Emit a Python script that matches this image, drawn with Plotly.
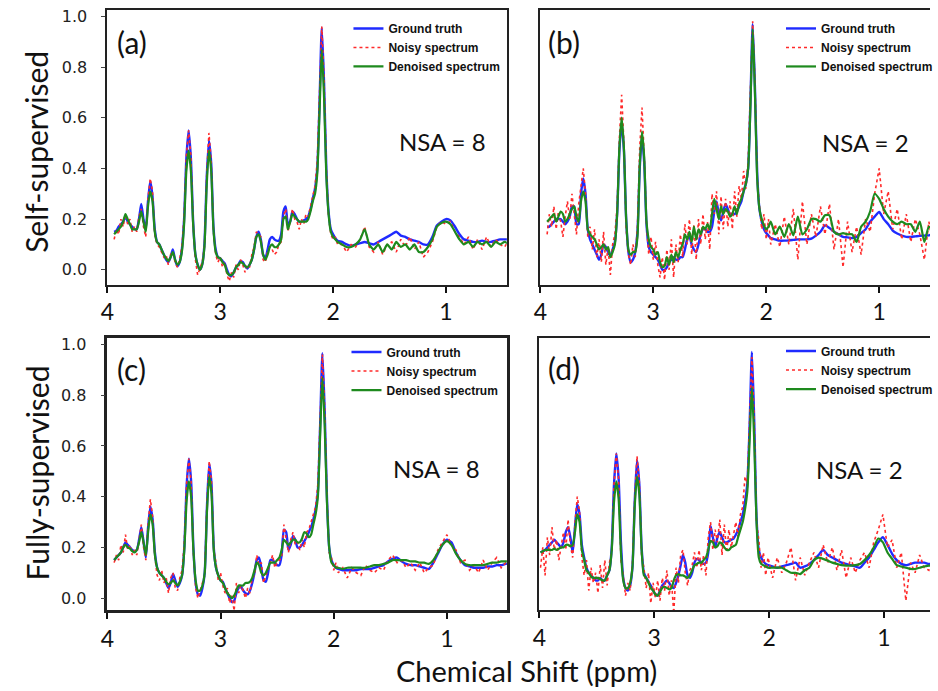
import plotly.graph_objects as go

# ---------------- data (chemical shift in ppm, normalised intensity) ----------------
ppm_abc = [3.94,3.92,3.90,3.88,3.86,3.84,3.82,3.80,3.78,3.76,
           3.74,3.72,3.70,3.68,3.66,3.64,3.62,3.60,3.58,3.56,
           3.54,3.52,3.50,3.48,3.46,3.44,3.42,3.40,3.38,3.36,
           3.34,3.32,3.30,3.28,3.26,3.24,3.22,3.20,3.18,3.16,
           3.14,3.12,3.10,3.08,3.06,3.04,3.02,3.00,2.98,2.96,
           2.94,2.92,2.90,2.88,2.86,2.84,2.82,2.80,2.78,2.76,
           2.74,2.72,2.70,2.68,2.66,2.64,2.62,2.60,2.58,2.56,
           2.54,2.52,2.50,2.48,2.46,2.44,2.42,2.40,2.38,2.36,
           2.34,2.32,2.30,2.28,2.26,2.24,2.22,2.20,2.18,2.16,
           2.14,2.12,2.10,2.08,2.06,2.04,2.02,2.00,1.98,1.96,
           1.92,1.88,1.84,1.80,1.76,1.72,1.68,1.64,1.60,1.56,
           1.52,1.48,1.44,1.40,1.36,1.32,1.28,1.24,1.20,1.16,
           1.12,1.08,1.04,1.00,0.96,0.92,0.88,0.84,0.80,0.76,
           0.72,0.68,0.64,0.60,0.56,0.52,0.48,0.44]

ppm_d = [3.99,3.97,3.95,3.93,3.91,3.89,3.87,3.85,3.83,3.81,
         3.79,3.77,3.75,3.73,3.71,3.69,3.67,3.65,3.63,3.61,
         3.59,3.57,3.55,3.53,3.51,3.49,3.47,3.45,3.43,3.41,
         3.39,3.37,3.35,3.33,3.31,3.29,3.27,3.25,3.23,3.21,
         3.19,3.17,3.15,3.13,3.11,3.09,3.07,3.05,3.03,3.01,
         2.99,2.97,2.95,2.93,2.91,2.89,2.87,2.85,2.83,2.81,
         2.79,2.77,2.75,2.73,2.71,2.69,2.67,2.65,2.63,2.61,
         2.59,2.57,2.55,2.53,2.51,2.49,2.47,2.45,2.43,2.41,
         2.39,2.37,2.35,2.33,2.31,2.29,2.27,2.25,2.23,2.21,
         2.19,2.17,2.15,2.13,2.11,2.09,2.07,2.05,2.03,2.01,
         1.97,1.93,1.89,1.85,1.81,1.77,1.73,1.69,1.65,1.61,
         1.57,1.53,1.49,1.45,1.41,1.37,1.33,1.29,1.25,1.21,
         1.17,1.13,1.09,1.05,1.01,0.97,0.93,0.89,0.85,0.81,
         0.77,0.73,0.69,0.65,0.61,0.57,0.53,0.49]

# (a) self-supervised, NSA = 8
gt_a = [0.15,0.155,0.17,0.18,0.19,0.21,0.19,0.18,0.17,0.16,
        0.16,0.20,0.26,0.20,0.16,0.27,0.35,0.29,0.16,0.11,
        0.10,0.08,0.06,0.04,0.03,0.05,0.08,0.04,0.015,0.03,
        0.08,0.20,0.44,0.55,0.44,0.19,0.06,0.02,0.00,0.02,
        0.10,0.36,0.51,0.42,0.17,0.08,0.05,0.045,0.035,0.025,
        0.00,-0.02,-0.025,-0.01,0.01,0.02,0.035,0.03,0.015,0.005,
        0.02,0.04,0.08,0.13,0.15,0.12,0.06,0.045,0.08,0.12,
        0.13,0.12,0.115,0.115,0.14,0.23,0.25,0.18,0.19,0.23,
        0.22,0.20,0.19,0.19,0.195,0.20,0.21,0.24,0.28,0.32,
        0.40,0.66,0.955,0.74,0.40,0.23,0.16,0.14,0.125,0.115,
        0.11,0.10,0.095,0.10,0.105,0.11,0.105,0.10,0.11,0.12,
        0.13,0.14,0.15,0.135,0.13,0.12,0.115,0.11,0.10,0.10,
        0.13,0.175,0.19,0.20,0.195,0.17,0.14,0.12,0.115,0.11,
        0.11,0.115,0.11,0.11,0.115,0.12,0.12,0.12]
noisy_a = [0.12,0.16,0.14,0.20,0.17,0.22,0.18,0.20,0.15,0.17,
           0.15,0.21,0.24,0.17,0.13,0.28,0.36,0.31,0.14,0.10,
           0.09,0.07,0.05,0.06,0.02,0.06,0.07,0.03,0.01,0.04,
           0.09,0.21,0.45,0.55,0.45,0.18,0.04,-0.02,0.01,0.03,
           0.09,0.37,0.54,0.43,0.15,0.06,0.03,0.05,0.01,0.03,
           -0.02,-0.045,-0.01,-0.03,0.02,0.00,0.04,0.02,-0.01,0.02,
           0.01,0.06,0.09,0.15,0.14,0.13,0.04,0.03,0.07,0.09,
           0.08,0.06,0.07,0.10,0.11,0.21,0.24,0.15,0.19,0.24,
           0.20,0.19,0.16,0.20,0.18,0.22,0.21,0.25,0.30,0.33,
           0.43,0.68,0.96,0.75,0.40,0.21,0.14,0.12,0.13,0.10,
           0.10,0.07,0.10,0.09,0.12,0.17,0.09,0.07,0.11,0.06,
           0.10,0.11,0.07,0.12,0.09,0.13,0.08,0.11,0.05,0.07,
           0.11,0.17,0.19,0.18,0.19,0.15,0.13,0.10,0.13,0.08,
           0.12,0.08,0.13,0.09,0.12,0.10,0.09,0.12]
den_a = [0.14,0.15,0.16,0.17,0.19,0.22,0.20,0.18,0.16,0.16,
         0.16,0.19,0.23,0.19,0.15,0.25,0.31,0.27,0.15,0.11,
         0.10,0.08,0.06,0.045,0.035,0.05,0.07,0.04,0.02,0.03,
         0.07,0.18,0.39,0.47,0.39,0.18,0.06,0.02,0.00,0.02,
         0.09,0.33,0.47,0.39,0.16,0.07,0.05,0.045,0.03,0.02,
         -0.01,-0.02,-0.02,-0.01,0.01,0.02,0.03,0.025,0.015,0.01,
         0.02,0.04,0.08,0.13,0.14,0.11,0.06,0.04,0.06,0.09,
         0.10,0.09,0.09,0.10,0.12,0.20,0.21,0.16,0.19,0.22,
         0.21,0.20,0.19,0.19,0.19,0.19,0.20,0.23,0.27,0.30,
         0.38,0.62,0.87,0.68,0.37,0.22,0.15,0.13,0.12,0.11,
         0.10,0.09,0.09,0.10,0.12,0.16,0.10,0.08,0.10,0.07,
         0.10,0.08,0.11,0.09,0.10,0.08,0.10,0.07,0.07,0.09,
         0.12,0.17,0.185,0.19,0.18,0.15,0.12,0.10,0.11,0.09,
         0.11,0.10,0.11,0.09,0.11,0.10,0.11,0.10]

# (b) self-supervised, NSA = 2
gt_b = [0.17,0.17,0.18,0.19,0.20,0.20,0.20,0.19,0.18,0.19,
        0.21,0.25,0.25,0.18,0.18,0.30,0.36,0.30,0.16,0.12,
        0.10,0.08,0.06,0.04,0.06,0.10,0.09,0.07,0.055,0.08,
        0.11,0.22,0.47,0.58,0.47,0.20,0.07,0.03,0.04,0.07,
        0.15,0.40,0.53,0.42,0.18,0.09,0.07,0.06,0.05,0.04,
        0.02,0.00,0.00,0.01,0.03,0.04,0.05,0.04,0.04,0.05,
        0.05,0.08,0.12,0.13,0.10,0.08,0.07,0.10,0.14,0.16,
        0.16,0.15,0.15,0.17,0.23,0.27,0.22,0.195,0.23,0.26,
        0.24,0.22,0.22,0.22,0.23,0.25,0.27,0.31,0.34,0.40,
        0.66,0.97,0.72,0.38,0.24,0.19,0.16,0.145,0.135,0.125,
        0.12,0.115,0.115,0.116,0.118,0.12,0.12,0.12,0.123,0.135,
        0.15,0.175,0.165,0.15,0.14,0.13,0.128,0.125,0.13,0.145,
        0.16,0.19,0.21,0.228,0.20,0.18,0.155,0.143,0.135,0.13,
        0.13,0.132,0.134,0.135,0.136,0.14,0.14,0.14]
noisy_b = [0.14,0.22,0.17,0.25,0.16,0.23,0.19,0.13,0.21,0.27,
           0.20,0.30,0.22,0.14,0.26,0.33,0.40,0.30,0.13,0.17,
           0.08,0.16,0.05,0.12,0.03,0.15,0.02,0.09,-0.02,0.10,
           0.14,0.25,0.52,0.69,0.50,0.16,0.06,0.02,0.10,0.05,
           0.17,0.48,0.64,0.45,0.18,0.06,0.13,0.04,0.11,0.02,
           -0.03,0.05,-0.04,0.08,0.00,0.12,-0.03,0.10,0.03,0.14,
           0.05,0.18,0.10,0.20,0.06,0.18,0.04,0.20,0.10,0.22,
           0.12,0.19,0.08,0.30,0.22,0.31,0.14,0.29,0.16,0.28,
           0.17,0.27,0.16,0.31,0.21,0.33,0.28,0.39,0.32,0.43,
           0.68,0.98,0.74,0.36,0.25,0.16,0.22,0.12,0.20,0.10,
           0.18,0.09,0.21,0.10,0.24,0.04,0.27,0.10,0.22,0.13,
           0.25,0.14,0.26,0.08,0.20,0.01,0.19,0.07,0.17,0.06,
           0.20,0.15,0.30,0.40,0.22,0.31,0.16,0.24,0.12,0.22,
           0.11,0.20,0.14,0.04,0.19,0.09,0.15,0.12]
den_b = [0.19,0.20,0.21,0.22,0.19,0.21,0.23,0.22,0.19,0.20,
         0.22,0.24,0.25,0.21,0.19,0.27,0.31,0.27,0.16,0.14,
         0.13,0.12,0.10,0.08,0.09,0.10,0.08,0.09,0.05,0.07,
         0.10,0.22,0.48,0.60,0.48,0.20,0.08,0.06,0.07,0.07,
         0.13,0.41,0.545,0.44,0.19,0.12,0.09,0.08,0.06,0.07,
         0.03,0.01,0.015,0.05,0.02,0.06,0.03,0.07,0.05,0.08,
         0.10,0.14,0.12,0.15,0.11,0.17,0.12,0.16,0.14,0.17,
         0.16,0.18,0.16,0.22,0.28,0.24,0.20,0.25,0.22,0.24,
         0.23,0.21,0.22,0.25,0.22,0.26,0.28,0.31,0.34,0.40,
         0.64,0.95,0.70,0.36,0.24,0.20,0.175,0.16,0.17,0.19,
         0.14,0.17,0.13,0.18,0.136,0.21,0.14,0.16,0.20,0.20,
         0.19,0.215,0.215,0.15,0.14,0.145,0.14,0.14,0.11,0.17,
         0.19,0.23,0.30,0.28,0.24,0.21,0.19,0.18,0.19,0.18,
         0.18,0.15,0.19,0.11,0.17,0.16,0.15,0.16]

# (c) fully-supervised, NSA = 8
gt_c = [0.15,0.16,0.17,0.18,0.20,0.22,0.21,0.20,0.19,0.185,
        0.19,0.23,0.28,0.22,0.16,0.28,0.36,0.31,0.18,0.12,
        0.10,0.09,0.08,0.06,0.04,0.06,0.095,0.07,0.045,0.06,
        0.09,0.20,0.44,0.55,0.46,0.20,0.06,0.015,0.01,0.04,
        0.10,0.36,0.53,0.45,0.20,0.12,0.09,0.07,0.065,0.04,
        0.02,0.00,-0.015,-0.01,0.02,0.04,0.045,0.03,0.02,0.015,
        0.03,0.06,0.10,0.15,0.16,0.12,0.07,0.065,0.10,0.15,
        0.15,0.14,0.13,0.13,0.17,0.27,0.26,0.19,0.21,0.245,
        0.23,0.20,0.20,0.21,0.225,0.24,0.26,0.28,0.31,0.35,
        0.42,0.68,0.965,0.74,0.40,0.20,0.15,0.13,0.12,0.115,
        0.11,0.11,0.11,0.11,0.115,0.115,0.115,0.12,0.125,0.13,
        0.145,0.155,0.16,0.145,0.135,0.13,0.13,0.125,0.12,0.115,
        0.14,0.175,0.21,0.23,0.22,0.18,0.15,0.13,0.125,0.12,
        0.12,0.12,0.125,0.125,0.13,0.13,0.135,0.135]
noisy_c = [0.14,0.17,0.15,0.21,0.18,0.25,0.19,0.21,0.17,0.19,
           0.17,0.24,0.29,0.20,0.15,0.29,0.39,0.32,0.16,0.09,
           0.07,0.11,0.06,0.08,0.02,0.08,0.10,0.04,0.03,0.08,
           0.11,0.22,0.45,0.55,0.46,0.18,0.04,0.00,0.03,0.05,
           0.09,0.38,0.54,0.46,0.19,0.14,0.07,0.10,0.05,0.02,
           0.04,-0.02,0.01,-0.05,0.06,0.02,0.05,0.03,0.00,0.04,
           0.02,0.08,0.09,0.17,0.13,0.14,0.06,0.09,0.11,0.14,
           0.17,0.12,0.14,0.15,0.16,0.29,0.24,0.18,0.23,0.26,
           0.21,0.22,0.19,0.23,0.20,0.26,0.27,0.30,0.33,0.36,
           0.45,0.70,0.96,0.75,0.40,0.18,0.16,0.11,0.14,0.10,
           0.12,0.08,0.12,0.10,0.09,0.13,0.11,0.10,0.12,0.11,
           0.15,0.17,0.14,0.15,0.12,0.14,0.11,0.14,0.10,0.12,
           0.13,0.19,0.22,0.25,0.21,0.19,0.14,0.15,0.11,0.13,
           0.10,0.15,0.11,0.14,0.16,0.12,0.14,0.13]
den_c = [0.15,0.16,0.17,0.18,0.20,0.21,0.20,0.195,0.185,0.18,
         0.19,0.22,0.26,0.22,0.17,0.26,0.33,0.29,0.17,0.12,
         0.10,0.09,0.08,0.065,0.055,0.06,0.07,0.06,0.05,0.065,
         0.09,0.19,0.38,0.46,0.40,0.19,0.07,0.03,0.03,0.05,
         0.10,0.34,0.48,0.41,0.19,0.12,0.09,0.07,0.06,0.04,
         0.02,0.01,0.00,0.01,0.03,0.05,0.05,0.05,0.06,0.06,
         0.065,0.08,0.11,0.14,0.13,0.10,0.09,0.10,0.12,0.14,
         0.14,0.14,0.15,0.16,0.19,0.23,0.22,0.21,0.22,0.23,
         0.23,0.22,0.22,0.235,0.26,0.255,0.24,0.25,0.29,0.33,
         0.40,0.64,0.87,0.68,0.38,0.20,0.14,0.13,0.12,0.12,
         0.115,0.12,0.12,0.12,0.12,0.12,0.125,0.13,0.13,0.135,
         0.14,0.15,0.15,0.15,0.15,0.145,0.145,0.14,0.14,0.135,
         0.15,0.18,0.21,0.225,0.21,0.175,0.15,0.135,0.13,0.13,
         0.13,0.13,0.135,0.14,0.14,0.145,0.145,0.145]

# (d) fully-supervised, NSA = 2
gt_d = [0.18,0.185,0.19,0.20,0.21,0.22,0.23,0.22,0.21,0.20,
        0.22,0.26,0.28,0.24,0.18,0.28,0.37,0.33,0.21,0.16,
        0.12,0.10,0.09,0.08,0.07,0.07,0.08,0.07,0.07,0.09,
        0.11,0.20,0.45,0.57,0.47,0.22,0.08,0.04,0.03,0.05,
        0.12,0.38,0.545,0.45,0.20,0.10,0.08,0.065,0.05,0.03,
        0.015,0.01,0.03,0.05,0.06,0.07,0.06,0.045,0.04,0.06,
        0.09,0.13,0.17,0.14,0.09,0.08,0.10,0.14,0.155,0.15,
        0.14,0.135,0.14,0.18,0.285,0.24,0.20,0.24,0.26,0.24,
        0.22,0.22,0.225,0.23,0.235,0.25,0.27,0.30,0.33,0.38,
        0.45,0.68,0.97,0.70,0.32,0.19,0.16,0.145,0.135,0.13,
        0.125,0.12,0.125,0.13,0.135,0.14,0.12,0.125,0.135,0.15,
        0.17,0.19,0.17,0.16,0.15,0.14,0.135,0.13,0.125,0.12,
        0.14,0.16,0.19,0.22,0.24,0.21,0.175,0.15,0.135,0.13,
        0.135,0.14,0.14,0.14,0.135,0.135,0.14,0.14]
noisy_d = [0.12,0.20,0.09,0.24,0.17,0.28,0.19,0.23,0.15,0.21,
           0.26,0.19,0.31,0.21,0.16,0.29,0.40,0.34,0.16,0.09,
           0.15,0.03,0.12,0.06,0.10,0.02,0.13,0.04,0.15,0.05,
           0.14,0.18,0.45,0.57,0.47,0.15,0.09,0.01,0.06,0.03,
           0.13,0.39,0.56,0.46,0.17,0.12,0.04,0.10,-0.02,0.06,
           0.00,0.07,-0.01,0.08,0.03,0.11,0.01,0.07,-0.06,0.12,
           0.06,0.17,0.19,0.10,0.05,0.11,0.13,0.18,0.12,0.19,
           0.11,0.17,0.09,0.24,0.30,0.19,0.27,0.22,0.31,0.17,
           0.29,0.18,0.27,0.20,0.25,0.30,0.24,0.33,0.36,0.48,
           0.45,0.70,0.95,0.70,0.30,0.23,0.12,0.18,0.09,0.16,
           0.08,0.16,0.10,0.14,0.20,0.07,0.16,0.09,0.14,0.18,
           0.12,0.21,0.14,0.20,0.11,0.19,0.08,0.16,0.10,0.15,
           0.18,0.12,0.22,0.27,0.33,0.20,0.23,0.12,0.18,-0.01,
           0.14,0.10,0.17,0.12,0.11,0.17,0.12,0.15]
den_d = [0.18,0.185,0.19,0.19,0.19,0.19,0.195,0.19,0.195,0.20,
         0.20,0.21,0.21,0.205,0.21,0.26,0.33,0.30,0.19,0.15,
         0.11,0.10,0.085,0.08,0.08,0.08,0.075,0.07,0.07,0.09,
         0.11,0.19,0.38,0.46,0.39,0.18,0.07,0.04,0.04,0.06,
         0.12,0.36,0.48,0.41,0.19,0.09,0.08,0.06,0.04,0.03,
         0.015,0.01,0.025,0.04,0.045,0.04,0.035,0.04,0.07,0.09,
         0.095,0.09,0.09,0.085,0.08,0.09,0.11,0.13,0.135,0.14,
         0.14,0.15,0.16,0.19,0.225,0.22,0.20,0.205,0.22,0.215,
         0.20,0.19,0.19,0.20,0.205,0.21,0.24,0.27,0.30,0.35,
         0.42,0.62,0.83,0.62,0.30,0.16,0.135,0.13,0.125,0.12,
         0.12,0.12,0.12,0.11,0.10,0.10,0.095,0.11,0.12,0.15,
         0.16,0.155,0.148,0.14,0.135,0.13,0.128,0.128,0.13,0.135,
         0.15,0.17,0.20,0.235,0.22,0.18,0.155,0.13,0.125,0.12,
         0.115,0.115,0.12,0.125,0.128,0.13,0.13,0.13]

series_names = ["Ground truth", "Noisy spectrum", "Denoised spectrum"]
panel_letters = ["(a)", "(b)", "(c)", "(d)"]
nsa_labels = ["NSA = 8", "NSA = 2", "NSA = 8", "NSA = 2"]
row_labels = ["Self-supervised", "Fully-supervised"]
x_title = "Chemical Shift (ppm)"
x_tick_vals = [4, 3, 2, 1]
y_tick_vals = [0.0, 0.2, 0.4, 0.6, 0.8, 1.0]

# ---------------- figure ----------------
W, H = 938, 691
def fx(p):
    return p / W
def fy(p):
    return 1 - p / H

BLUE = "#1f2bff"
RED = "#ff2a2a"
GREEN = "#1e8a1e"
TXT = "Lato, 'Open Sans', sans-serif"

fig = go.Figure()

panels = [
    dict(x=ppm_abc, data=(gt_a, noisy_a, den_a), ax="x", ay="y", leg="legend"),
    dict(x=ppm_abc, data=(gt_b, noisy_b, den_b), ax="x2", ay="y2", leg="legend2"),
    dict(x=ppm_abc, data=(gt_c, noisy_c, den_c), ax="x3", ay="y3", leg="legend3"),
    dict(x=ppm_d, data=(gt_d, noisy_d, den_d), ax="x4", ay="y4", leg="legend4"),
]
styles = [dict(color=BLUE, width=2.4, dash="solid", shape="spline", smoothing=0.6),
          dict(color=RED, width=1.6, dash="dot"),
          dict(color=GREEN, width=2.2, dash="solid", shape="spline", smoothing=0.6)]

for p in panels:
    for name, ys, st in zip(series_names, p["data"], styles):
        fig.add_trace(go.Scatter(
            x=p["x"], y=ys, mode="lines", name=name, line=st,
            xaxis=p["ax"], yaxis=p["ay"], legend=p["leg"]))

# geometry (pixels) of the four plotting areas
boxes = {
    "a": dict(l=102, r=508, t=7, b=283),
    "b": dict(l=542, r=938, t=7, b=283),
    "c": dict(l=102, r=508, t=336, b=610),
    "d": dict(l=541, r=938, t=336, b=610),
}
xranges = {"a": [4.0, 0.46], "b": [4.0, 0.55], "c": [4.0, 0.47], "d": [4.0, 0.60]}
yranges = {"a": [-0.059, 1.025], "b": [-0.059, 1.025], "c": [-0.048, 1.027], "d": [-0.048, 1.027]}
keys = ["a", "b", "c", "d"]
axnames = [("xaxis", "yaxis", "y", "x"), ("xaxis2", "yaxis2", "y2", "x2"),
           ("xaxis3", "yaxis3", "y3", "x3"), ("xaxis4", "yaxis4", "y4", "x4")]

layout = dict(
    width=W, height=H, margin=dict(l=0, r=0, t=0, b=0),
    paper_bgcolor="white", plot_bgcolor="white", showlegend=True,
)
for k, (xn, yn, yanc, xanc) in zip(keys, axnames):
    bx = boxes[k]
    lw = 2.6 if k == "c" else 2
    layout[xn] = dict(
        domain=[fx(bx["l"]), min(1.0, fx(bx["r"]))], range=xranges[k], anchor=yanc,
        tickvals=x_tick_vals, ticktext=[str(v) for v in x_tick_vals],
        ticks="outside", ticklen=6, tickwidth=2, tickcolor="#111",
        showline=True, linecolor="#222", linewidth=lw, mirror=True,
        showgrid=False, zeroline=False,
        tickfont=dict(family=TXT, size=23, color="#111"),
    )
    left = k in ("a", "c")
    layout[yn] = dict(
        domain=[fy(bx["b"]), fy(bx["t"])], range=yranges[k], anchor=xanc,
        tickvals=y_tick_vals, tickformat=".1f", showticklabels=left,
        ticks="outside" if left else "", ticklen=4, tickwidth=1, tickcolor="#444",
        ticklabelstandoff=11,
        showline=True, linecolor="#222", linewidth=lw, mirror=left,
        showgrid=False, zeroline=False,
        tickfont=dict(family="DejaVu Sans", size=16, color="#222"),
    )

leg_common = dict(xanchor="left", yanchor="top", bgcolor="rgba(0,0,0,0)",
                  borderwidth=0, itemwidth=30, tracegroupgap=0,
                  font=dict(family="Liberation Sans", size=12, color="#111", weight="bold"))
layout["legend"] = dict(x=fx(347), y=fy(11), **leg_common)
layout["legend2"] = dict(x=fx(787), y=fy(11), **leg_common)
layout["legend3"] = dict(x=fx(345), y=fy(336), **leg_common)
layout["legend4"] = dict(x=fx(787), y=fy(335), **leg_common)

ann = []
letter_pos = [(110, 39), (548, 39), (110, 368), (548, 367)]
nsa_pos = [(443, 139), (872, 140), (436, 468), (866, 469)]
for lab, (px_, py_) in zip(panel_letters, letter_pos):
    ann.append(dict(text=lab, x=fx(px_), y=fy(py_), xref="paper", yref="paper",
                    xanchor="left", yanchor="middle", showarrow=False,
                    font=dict(family=TXT, size=30, color="#111")))
for lab, (px_, py_) in zip(nsa_labels, nsa_pos):
    ann.append(dict(text=lab, x=fx(px_), y=fy(py_), xref="paper", yref="paper",
                    xanchor="center", yanchor="middle", showarrow=False,
                    font=dict(family=TXT, size=24, color="#111")))
for lab, py_ in zip(row_labels, [150, 472]):
    ann.append(dict(text=lab, x=fx(30), y=fy(py_), xref="paper", yref="paper",
                    xanchor="center", yanchor="middle", textangle=-90, showarrow=False,
                    font=dict(family=TXT, size=30, color="#111")))
ann.append(dict(text=x_title, x=fx(528), y=fy(670), xref="paper", yref="paper",
                xanchor="center", yanchor="middle", showarrow=False, borderpad=0,
                font=dict(family=TXT, size=29, color="#111")))
layout["annotations"] = ann

fig.update_layout(**layout)
fig.write_html("out.html")
